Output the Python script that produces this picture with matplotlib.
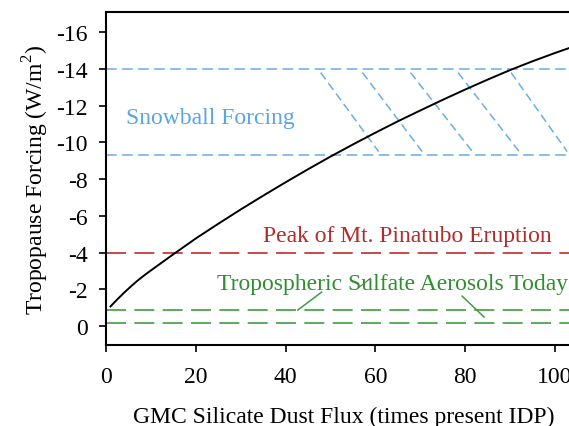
import matplotlib
matplotlib.use("Agg")
import matplotlib.pyplot as plt
import numpy as np

plt.rcParams['font.family'] = ['Liberation Serif', 'DejaVu Serif']
plt.rcParams['axes.unicode_minus'] = False
plt.rcParams['mathtext.fontset'] = 'custom'
plt.rcParams['mathtext.rm'] = 'Liberation Serif'

# Data
dust_flux = [1, 2.5, 4, 5.5, 7, 8.5, 10, 15, 20, 25, 30, 35, 40, 45, 50, 55, 60,
             65, 70, 75, 80, 85, 90, 95, 100, 106]
forcing = [-1.07, -1.45, -1.81, -2.15, -2.47, -2.76, -3.03, -3.91, -4.77,
           -5.57, -6.35, -7.10, -7.83, -8.54, -9.23, -9.89, -10.53, -11.15,
           -11.74, -12.32, -12.88, -13.42, -13.94, -14.42, -14.87, -15.38]

snowball_levels = [-14.0, -9.3]
pinatubo_level = -4.0
sulfate_levels = [-0.85, -0.17]

hatch_top_x = [47.8, 57.1, 67.8, 78.4, 90.2]
hatch_bottom_x = [60.7, 70.4, 81.6, 92.0, 102.7]
hatch_top_y = -13.8
hatch_bottom_y = -9.5

x_ticks = [0, 20, 40, 60, 80, 100]
y_ticks = [0, -2, -4, -6, -8, -10, -12, -14, -16]
y_tick_labels = ["0", "-2", "-4", "-6", "-8", "-10", "-12", "-14", "-16"]

blue = '#6aaee6'
blue_text = '#5aa6e2'
red = '#c42a2a'
red_text = '#b52a2a'
green = '#3f9e3f'
green_text = '#2f8f2f'

fig = plt.figure(figsize=(5.69, 4.27), dpi=100)
ax = fig.add_axes([0.1863, 0.1897, 0.8366, 0.7799])

# Snowball band
for lv in snowball_levels:
    ax.axhline(lv, color=blue, lw=1.1, dashes=(7, 3.5))
for xt, xb in zip(hatch_top_x, hatch_bottom_x):
    ax.plot([xt, xb], [hatch_top_y, hatch_bottom_y], color=blue, lw=1.1, dashes=(5.5, 3))

ax.axhline(pinatubo_level, color=red, lw=1.2, dashes=(12, 5))
for lv in sulfate_levels:
    ax.axhline(lv, color=green, lw=1.2, dashes=(12, 5))

# leader lines
ax.plot([42.7, 48.0], [-0.87, -1.85], color=green, lw=1.1)
ax.plot([79.3, 84.2], [-1.63, -0.49], color=green, lw=1.1)
ax.plot([56.4, 58.9], [-2.12, -2.6], color='#555555', lw=0.7)

ax.plot(dust_flux, forcing, color='black', lw=1.4)

fs = 17
ax.text(4.4, -11.36, "Snowball Forcing", color=blue_text, fontsize=fs, va='center', ha='left')
ax.text(34.9, -4.95, "Peak of Mt. Pinatubo Eruption", color=red_text, fontsize=fs, va='center', ha='left')
ax.text(24.7, -2.3, "Tropospheric Sulfate Aerosols Today", color=green_text, fontsize=fs, va='center', ha='left')

ax.set_xlim(0, 106)
ax.set_ylim(1.03, -17.1)
ax.set_xticks(x_ticks)
ax.set_yticks(y_ticks)
ax.set_yticklabels(y_tick_labels)
ax.tick_params(direction='out', length=5, width=1.2, labelsize=fs, pad=8)
ax.tick_params(axis='x', pad=10)
for s in ax.spines.values():
    s.set_linewidth(1.5)
ax.spines['right'].set_visible(False)

ax.set_xlabel("GMC Silicate Dust Flux (times present IDP)", fontsize=fs, labelpad=14)
ax.set_ylabel("Tropopause Forcing (W/m$^\\mathrm{2}$)", fontsize=fs, labelpad=4)

fig.savefig("out.png", dpi=100)
